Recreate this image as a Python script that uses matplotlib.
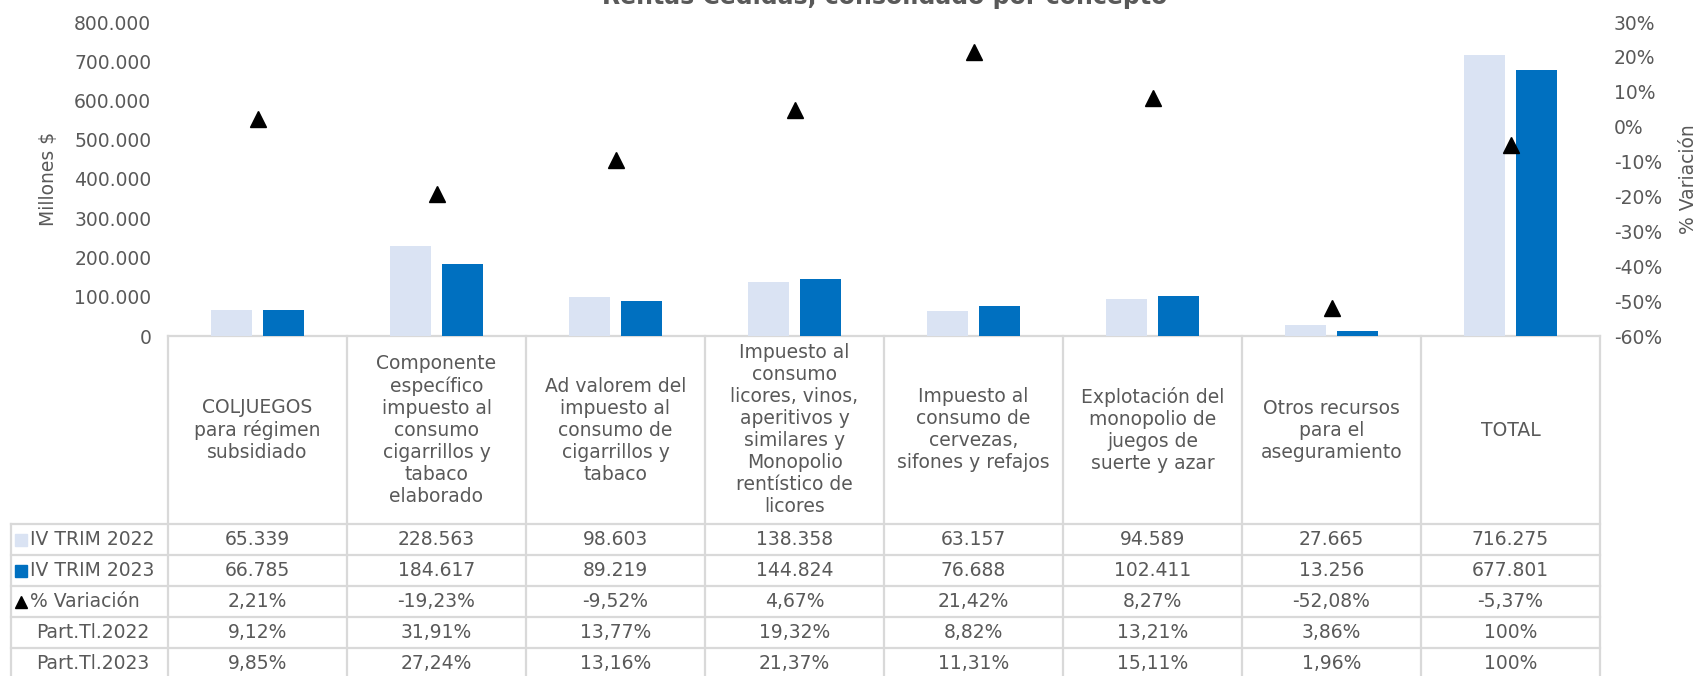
import matplotlib

matplotlib.use("Agg")
import matplotlib.pyplot as plt
import matplotlib.transforms as mtransforms
import numpy as np
from matplotlib.ticker import FuncFormatter, MultipleLocator

plt.rcParams["font.family"] = ["DejaVu Sans"]

CATEGORIES = [
    "COLJUEGOS\npara régimen\nsubsidiado",
    "Componente\nespecífico\nimpuesto al\nconsumo\ncigarrillos y\ntabaco\nelaborado",
    "Ad valorem del\nimpuesto al\nconsumo de\ncigarrillos y\ntabaco",
    "Impuesto al\nconsumo\nlicores, vinos,\naperitivos y\nsimilares y\nMonopolio\nrentístico de\nlicores",
    "Impuesto al\nconsumo de\ncervezas,\nsifones y refajos",
    "Explotación del\nmonopolio de\njuegos de\nsuerte y azar",
    "Otros recursos\npara el\naseguramiento",
    "TOTAL",
]
TRIM_2022 = [65339, 228563, 98603, 138358, 63157, 94589, 27665, 716275]
TRIM_2023 = [66785, 184617, 89219, 144824, 76688, 102411, 13256, 677801]
VARIACION = [2.21, -19.23, -9.52, 4.67, 21.42, 8.27, -52.08, -5.37]
PART_2022 = [9.12, 31.91, 13.77, 19.32, 8.82, 13.21, 3.86, 100]
PART_2023 = [9.85, 27.24, 13.16, 21.37, 11.31, 15.11, 1.96, 100]

LIGHT = "#DAE3F3"
DARK = "#0070C0"
GREY = "#595959"
GRID = "#D9D9D9"
FS = 13.5


def miles(v):
    return f"{v:,.0f}".replace(",", ".")


def pct(v):
    if v == 100:
        return "100%"
    return f"{v:.2f}%".replace(".", ",")


W, H = 1701, 676
fig = plt.figure(figsize=(W / 100, H / 100), dpi=100)

# axes in pixel layout
left_px, right_px = 168, 1600
zero_px, top_px = 336, 22
ax = fig.add_axes([left_px / W, 1 - zero_px / H, (right_px - left_px) / W, (zero_px - top_px) / H])
ax2 = ax.twinx()

x = np.arange(len(CATEGORIES))
bw = 0.23
ax.bar(x - 0.145, TRIM_2022, width=bw, color=LIGHT, zorder=2)
ax.bar(x + 0.145, TRIM_2023, width=bw, color=DARK, zorder=2)
ax2.plot(x, VARIACION, linestyle="none", marker="^", markersize=12, color="black")

ax.set_xlim(-0.5, len(CATEGORIES) - 0.5)
ax.set_ylim(0, 800000)
ax.yaxis.set_major_locator(MultipleLocator(100000))
ax.yaxis.set_major_formatter(FuncFormatter(lambda v, p: miles(v)))
ax2.set_ylim(-60, 30)
ax2.yaxis.set_major_locator(MultipleLocator(10))
ax2.yaxis.set_major_formatter(FuncFormatter(lambda v, p: f"{v:.0f}%"))

for a in (ax, ax2):
    for s in a.spines.values():
        s.set_visible(False)
    a.tick_params(length=0, labelsize=FS, colors=GREY)
ax.tick_params(axis="y", pad=12)
ax2.tick_params(axis="y", pad=10)
ax.set_xticks([])
ax.set_ylabel("Millones $", fontsize=FS, color=GREY)
ax2.set_ylabel("% Variación", fontsize=FS, color=GREY)
ax.yaxis.set_label_coords(-0.077, 0.5)
ax2.yaxis.set_label_coords(1.055, 0.5)

# table below the plot: x in data units, y in axes fraction
ax_h = zero_px - top_px
header_px = 188
row_px = 31
trans = mtransforms.blended_transform_factory(ax.transData, ax.transAxes)


def fy(px_below_zero):
    return -px_below_zero / ax_h


line_kw = dict(color=GRID, lw=1.6, clip_on=False, zorder=1)
xl, xr = -0.5, len(CATEGORIES) - 0.5
label_left = xl - (left_px - 11) / ((right_px - left_px) / len(CATEGORIES))

n_rows = 5
bottom = header_px + n_rows * row_px
# horizontal lines
ax.plot([xl, xr], [0, 0], transform=trans, **line_kw)
for i in range(n_rows + 1):
    yy = fy(header_px + i * row_px)
    ax.plot([label_left, xr], [yy, yy], transform=trans, **line_kw)
# vertical lines
for i in range(len(CATEGORIES) + 1):
    ax.plot([xl + i, xl + i], [0, fy(bottom)], transform=trans, **line_kw)
ax.plot([label_left, label_left], [fy(header_px), fy(bottom)], transform=trans, **line_kw)

for i, cat in enumerate(CATEGORIES):
    ax.text(i, fy(header_px / 2), cat, transform=trans, ha="center", va="center",
            fontsize=FS, color=GREY, linespacing=1.2, clip_on=False)

rows = [
    ("IV TRIM 2022", [miles(v) for v in TRIM_2022]),
    ("IV TRIM 2023", [miles(v) for v in TRIM_2023]),
    ("% Variación", [pct(v) for v in VARIACION]),
    ("Part.Tl.2022", [pct(v) for v in PART_2022]),
    ("Part.Tl.2023", [pct(v) for v in PART_2023]),
]
label_mid = (label_left + xl) / 2
for r, (name, cells) in enumerate(rows):
    yc = fy(header_px + (r + 0.5) * row_px)
    for i, s in enumerate(cells):
        ax.text(i, yc, s, transform=trans, ha="center", va="center",
                fontsize=FS, color=GREY, clip_on=False)
    if r < 3:
        tx = label_left + 0.105
        ax.text(tx, yc, name, transform=trans, ha="left", va="center",
                fontsize=FS, color=GREY, clip_on=False)
        kx = label_left + 0.055
        if r == 0:
            ax.plot([kx], [yc], marker="s", markersize=9, color=LIGHT, transform=trans, clip_on=False)
        elif r == 1:
            ax.plot([kx], [yc], marker="s", markersize=9, color=DARK, transform=trans, clip_on=False)
        else:
            ax.plot([kx], [yc], marker="^", markersize=9, color="black", transform=trans, clip_on=False)
    else:
        ax.text(label_mid + 0.02, yc, name, transform=trans, ha="center", va="center",
                fontsize=FS, color=GREY, clip_on=False)

fig.text(885 / W, 1 - 4 / H, "Rentas Cedidas, consolidado por concepto", ha="center",
         va="baseline", fontsize=17, fontweight="bold", color=GREY)

fig.savefig("out.png", dpi=100)
